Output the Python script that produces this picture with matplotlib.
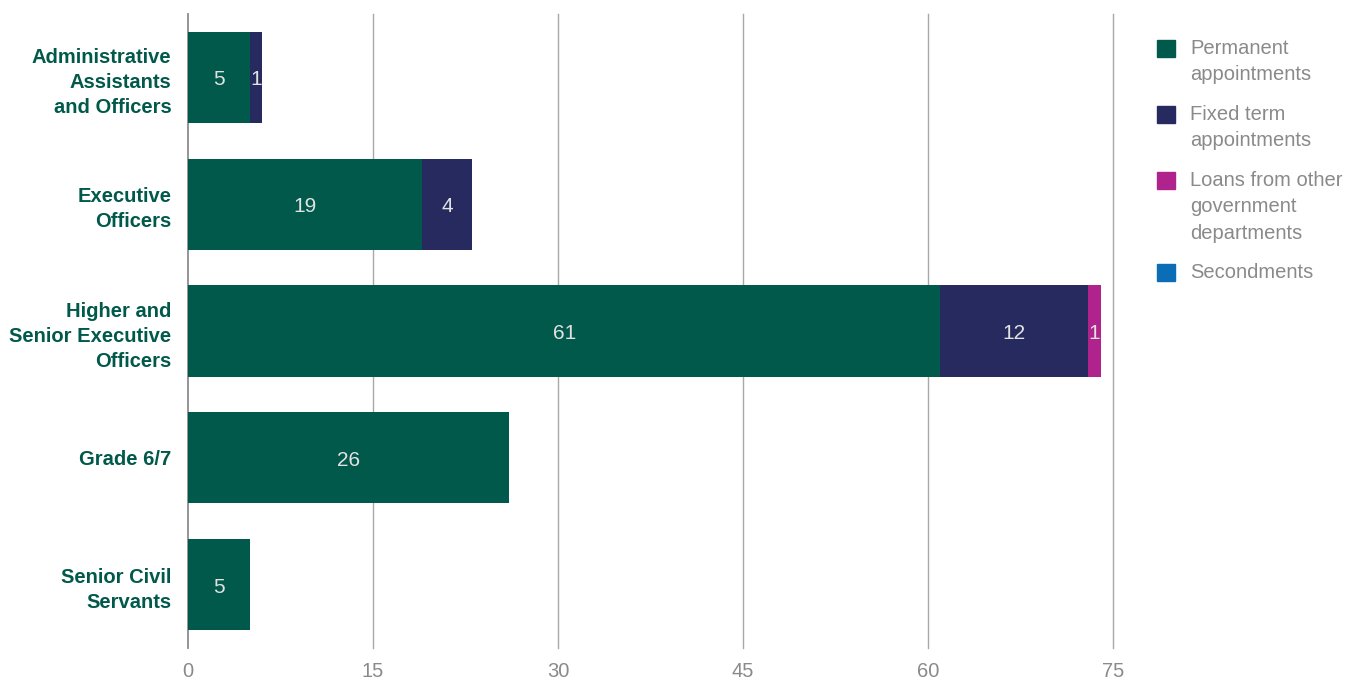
import matplotlib
matplotlib.use("Agg")
import matplotlib.pyplot as plt
from matplotlib.patches import Rectangle
import numpy as np

categories = ["Administrative\nAssistants\nand Officers", "Executive\nOfficers",
              "Higher and\nSenior Executive\nOfficers", "Grade 6/7", "Senior Civil\nServants"]
series_names = ["Permanent\nappointments", "Fixed term\nappointments",
                "Loans from other\ngovernment\ndepartments", "Secondments"]
permanent = [5, 19, 61, 26, 5]
fixed_term = [1, 4, 12, 0, 0]
loans = [0, 0, 1, 0, 0]
secondments = [0, 0, 0, 0, 0]
xticks = [0, 15, 30, 45, 60, 75]

colors = ["#00594A", "#262A5E", "#B0228C", "#0A6DB5"]
series = [permanent, fixed_term, loans, secondments]

plt.rcParams['font.family'] = ['Liberation Sans', 'DejaVu Sans']

fig = plt.figure(figsize=(13.65, 6.82), dpi=100)
ax = fig.add_axes([188/1365, 1-648/682, (1113-188)/1365, (648-14)/682])

y = np.arange(len(categories))
left = np.zeros(len(categories))
for vals, col in zip(series, colors):
    vals = np.array(vals, dtype=float)
    ax.barh(y, vals, left=left, height=0.72, color=col, zorder=3)
    for yi, (l, v) in enumerate(zip(left, vals)):
        if v > 0:
            ax.text(l + v/2, yi + 0.02, f"{int(v)}", ha="center", va="center",
                    color="#E2E2E2", fontsize=15, zorder=4)
    left += vals

ax.set_xlim(0, 75)
ax.set_ylim(len(categories) - 0.5, -0.5)
ax.set_xticks(xticks)
ax.set_xticklabels([str(t) for t in xticks])
ax.set_yticks(y)
ax.set_yticklabels(categories, fontsize=14.5, fontweight="bold", color="#00594A",
                   linespacing=1.4)
ax.tick_params(axis="both", length=0)
ax.tick_params(axis="x", pad=10, labelsize=14.5, labelcolor="#8A8A8A")
ax.tick_params(axis="y", pad=12)
for s in ax.spines.values():
    s.set_visible(False)
for t in xticks:
    ax.axvline(t, color="#8C8C8C" if t == 0 else "#A8A8A8", lw=1.3 if t == 0 else 1.0,
               zorder=1, clip_on=False)

# legend
leg_tops = [40, 106, 172, 264]
for name, col, top in zip(series_names, colors, leg_tops):
    fig.add_artist(Rectangle((1157/1365, 1-(top+17)/682), 18/1365, 17/682,
                             transform=fig.transFigure, color=col))
    fig.text(1190/1365, 1-(top-1)/682, name, ha="left", va="top", fontsize=14.5,
             color="#8A8A8A", linespacing=1.5)

fig.savefig("out.png", dpi=100)
